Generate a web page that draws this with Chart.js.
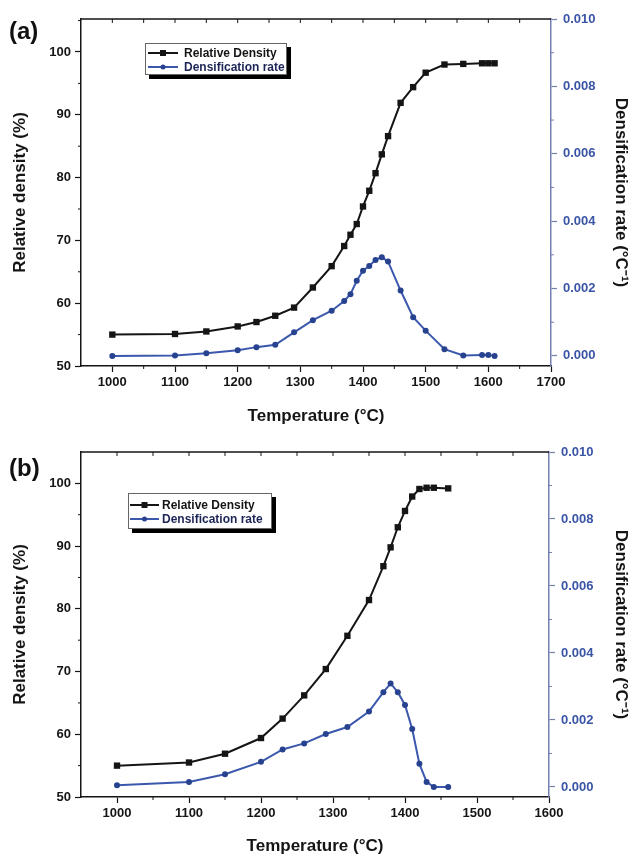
<!DOCTYPE html>
<html>
<head>
<meta charset="utf-8">
<script src="https://cdn.jsdelivr.net/npm/chart.js@4.4.1/dist/chart.umd.min.js"></script>
<style>
  body { margin: 0; background: #fff; width: 629px; height: 857px; position: relative; overflow: hidden; font-family: "Liberation Sans", Arial, sans-serif; }
  .panel { position: absolute; left: 0; width: 629px; }
  .tag { position: absolute; left: 9px; font-weight: bold; font-size: 24px; color: #111; }
</style>
</head>
<body>
<div class="panel" style="top:0;height:430px"><canvas id="chartA"></canvas></div>
<div class="panel" style="top:430px;height:427px"><canvas id="chartB"></canvas></div>
<div class="tag" style="top:17px">(a)</div>
<div class="tag" style="top:454px">(b)</div>
<script>
// panel (a)
const tempsA = [1000, 1100, 1150, 1200, 1230, 1260, 1290, 1320, 1350, 1370, 1380, 1390, 1400, 1410, 1420, 1430, 1440, 1460, 1480, 1500, 1530, 1560, 1590, 1600, 1610];
const densityA = [55.0, 55.1, 55.5, 56.3, 57.0, 58.0, 59.3, 62.5, 65.9, 69.1, 70.9, 72.6, 75.4, 77.9, 80.7, 83.7, 86.6, 91.9, 94.4, 96.7, 98.0, 98.1, 98.2, 98.2, 98.2];
const rateA = [0.00000, 0.00001, 0.00008, 0.00017, 0.00026, 0.00033, 0.00070, 0.00106, 0.00134, 0.00163, 0.00183, 0.00223, 0.00253, 0.00267, 0.00285, 0.00293, 0.00280, 0.00194, 0.00115, 0.00075, 0.00020, 0.00001, 0.00003, 0.00003, 0.00000];

// panel (b)
const tempsB = [1000, 1100, 1150, 1200, 1230, 1260, 1290, 1320, 1350, 1370, 1380, 1390, 1400, 1410, 1420, 1430, 1440, 1460];
const densityB = [55.0, 55.5, 56.9, 59.4, 62.5, 66.2, 70.4, 75.7, 81.4, 86.8, 89.8, 93.0, 95.6, 97.9, 99.1, 99.3, 99.3, 99.2];
const rateB = [0.00005, 0.00015, 0.00038, 0.00075, 0.00112, 0.00130, 0.00158, 0.00179, 0.00225, 0.00283, 0.00309, 0.00283, 0.00245, 0.00173, 0.00069, 0.00015, 0.00000, 0.00000];

const seriesLabels = ['Relative Density', 'Densification rate'];
const xTitle = 'Temperature (°C)';
const yTitle = 'Relative density (%)';
const y2Title = 'Densification rate (°C⁻¹)';

const INK = '#151515';
const BLUE_LINE = '#3b58ad';
const BLUE_DOT = '#27428f';
const BLUE_TEXT = '#3a55a6';
const BLUE_AXIS = '#7380b0';
const FONT = '"Liberation Sans", Arial, sans-serif';

// top frame line, inward top ticks and the small minor ticks
const framePlugin = {
  id: 'frame',
  afterDraw(chart) {
    const ctx = chart.ctx;
    const a = chart.chartArea;
    const x = chart.scales.x, y = chart.scales.y, y2 = chart.scales.y2;
    ctx.save();
    ctx.lineWidth = 1.5;
    ctx.strokeStyle = INK;
    ctx.beginPath();
    ctx.moveTo(a.left, a.top);
    ctx.lineTo(a.right, a.top);
    ctx.stroke();
    ctx.lineWidth = 1;
    ctx.beginPath();
    for (let v = 1000; v < x.max; v += 50) {
      const px = x.getPixelForValue(v);
      ctx.moveTo(px, a.top);
      ctx.lineTo(px, a.top + 4);
      if (v % 100 !== 0) {
        ctx.moveTo(px, a.bottom);
        ctx.lineTo(px, a.bottom + 3);
      }
    }
    for (let v = 55; v < y.max; v += 10) {
      const py = y.getPixelForValue(v);
      ctx.moveTo(a.left, py);
      ctx.lineTo(a.left - 3, py);
    }
    ctx.stroke();
    ctx.strokeStyle = BLUE_AXIS;
    ctx.beginPath();
    for (let v = 0.001; v < y2.max; v += 0.002) {
      const py = y2.getPixelForValue(v);
      ctx.moveTo(a.right, py);
      ctx.lineTo(a.right + 3, py);
    }
    ctx.stroke();
    ctx.restore();
  }
};

// boxed legend with a drop shadow, inside the plot
const boxLegend = {
  id: 'boxLegend',
  afterDraw(chart, args, o) {
    const ctx = chart.ctx;
    ctx.save();
    ctx.fillStyle = '#000';
    ctx.fillRect(o.x + 4, o.y + 4, o.w, o.h);
    ctx.fillStyle = '#fff';
    ctx.fillRect(o.x, o.y, o.w, o.h);
    ctx.strokeStyle = '#666';
    ctx.lineWidth = 1;
    ctx.strokeRect(o.x + 0.5, o.y + 0.5, o.w - 1, o.h - 1);
    ctx.font = 'bold 12px ' + FONT;
    ctx.textBaseline = 'middle';
    chart.data.datasets.forEach((ds, i) => {
      const ry = o.rows[i];
      ctx.strokeStyle = ds.borderColor;
      ctx.lineWidth = 2;
      ctx.beginPath();
      ctx.moveTo(o.lineFrom, ry);
      ctx.lineTo(o.lineTo, ry);
      ctx.stroke();
      const mx = (o.lineFrom + o.lineTo) / 2;
      ctx.fillStyle = ds.pointBackgroundColor;
      if (ds.pointStyle === 'rect') {
        ctx.fillRect(mx - 3, ry - 3, 6, 6);
      } else {
        ctx.beginPath();
        ctx.arc(mx, ry, 2.5, 0, Math.PI * 2);
        ctx.fill();
      }
      ctx.fillStyle = i === 1 ? '#1c2556' : INK;
      ctx.fillText(ds.label, o.textX, ry + 0.5);
    });
    ctx.restore();
  }
};

function makePanel(id, temps, density, rate, cfg) {
  const H = cfg.height;
  return new Chart(document.getElementById(id), {
    type: 'line',
    data: {
      datasets: [{
        label: seriesLabels[0],
        data: temps.map((t, i) => ({ x: t, y: density[i] })),
        yAxisID: 'y',
        borderColor: INK,
        backgroundColor: INK,
        pointBackgroundColor: INK,
        pointBorderColor: INK,
        pointStyle: 'rect',
        pointRadius: 4.5,
        pointBorderWidth: 0,
        borderWidth: 2,
        tension: 0
      }, {
        label: seriesLabels[1],
        data: temps.map((t, i) => ({ x: t, y: rate[i] })),
        yAxisID: 'y2',
        borderColor: BLUE_LINE,
        backgroundColor: BLUE_DOT,
        pointBackgroundColor: BLUE_DOT,
        pointBorderColor: BLUE_DOT,
        pointStyle: 'circle',
        pointRadius: 3,
        pointBorderWidth: 0,
        borderWidth: 2,
        tension: 0
      }]
    },
    options: {
      responsive: true,
      maintainAspectRatio: false,
      animation: false,
      layout: { padding: { top: cfg.top, left: 0, right: 0, bottom: 0 } },
      plugins: {
        legend: { display: false },
        tooltip: { enabled: false },
        boxLegend: cfg.legend
      },
      scales: {
        x: {
          type: 'linear',
          position: 'bottom',
          min: 950,
          max: cfg.xMax,
          afterBuildTicks: s => { s.ticks = s.ticks.filter(t => t.value % 100 === 0); },
          afterFit: s => { s.height = H - cfg.bottom; },
          ticks: { stepSize: 100, includeBounds: false, color: INK, font: { family: FONT, size: 13, weight: 'bold' }, padding: 3, maxRotation: 0, callback: v => String(v) },
          grid: { drawOnChartArea: false, tickLength: 6, tickColor: INK, tickWidth: 1.2 },
          border: { color: INK, width: 1.5 },
          title: { display: true, text: xTitle, color: INK, font: { family: FONT, size: 17, weight: 'bold' }, padding: { top: 0, bottom: cfg.xTitlePad } }
        },
        y: {
          position: 'left',
          min: 50,
          max: cfg.yMax,
          afterBuildTicks: s => { s.ticks = s.ticks.filter(t => t.value % 10 === 0); },
          afterFit: s => { s.width = 81; },
          ticks: { stepSize: 10, includeBounds: false, color: INK, font: { family: FONT, size: 13, weight: 'bold' }, padding: 4 },
          grid: { drawOnChartArea: false, tickLength: 6, tickColor: INK, tickWidth: 1.2 },
          border: { color: INK, width: 1.5 },
          title: { display: true, text: yTitle, color: INK, font: { family: FONT, size: 17, weight: 'bold' }, padding: { top: 10, bottom: 0 } }
        },
        y2: {
          position: 'right',
          min: -0.0003,
          max: 0.010,
          afterBuildTicks: s => { s.ticks = s.ticks.filter(t => t.value > -1e-9 && Math.abs(t.value / 0.002 - Math.round(t.value / 0.002)) < 1e-6); },
          afterFit: s => { s.width = 629 - cfg.right; },
          ticks: { stepSize: 0.002, includeBounds: false, color: BLUE_TEXT, font: { family: FONT, size: 13, weight: 'bold' }, padding: 6, callback: v => Math.abs(v).toFixed(3) },
          grid: { drawOnChartArea: false, tickLength: 6, tickColor: BLUE_AXIS, tickWidth: 1.2 },
          border: { color: BLUE_AXIS, width: 1.5 },
          title: { display: true, text: y2Title, color: INK, font: { family: FONT, size: 17, weight: 'bold', lineHeight: 1 }, padding: { top: 0, bottom: 0 } }
        }
      }
    },
    plugins: [framePlugin, boxLegend]
  });
}

makePanel('chartA', tempsA, densityA, rateA, {
  height: 430, top: 19, bottom: 366, right: 551,
  xMax: 1700, yMax: 105.25, xTitlePad: 3,
  legend: { x: 145, y: 43, w: 142, h: 32, rows: [53, 67], lineFrom: 148, lineTo: 178, textX: 184 }
});

makePanel('chartB', tempsB, densityB, rateB, {
  height: 427, top: 22, bottom: 367, right: 549,
  xMax: 1600, yMax: 105.0, xTitlePad: 0,
  legend: { x: 128, y: 63, w: 144, h: 36, rows: [75, 89], lineFrom: 130, lineTo: 159, textX: 162 }
});
</script>
</body>
</html>
